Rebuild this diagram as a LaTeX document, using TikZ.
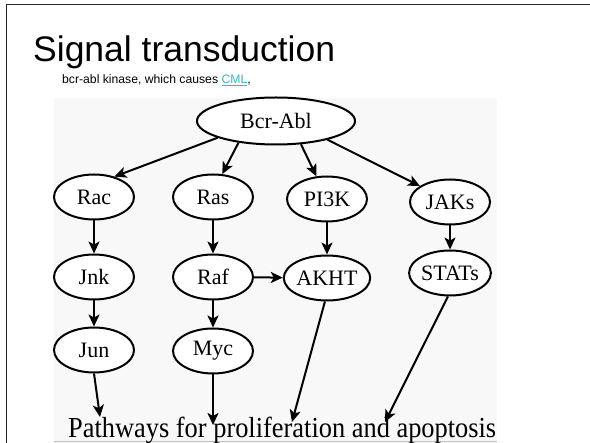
\documentclass[tikz,border=0pt]{standalone}
\usepackage{fontspec}
\setmainfont{Liberation Serif}
\newfontfamily\slidefont{Liberation Sans}
\usepackage{graphicx}
\usetikzlibrary{shapes.geometric,arrows.meta}

\definecolor{panelgray}{RGB}{248,248,248}
\definecolor{linkteal}{RGB}{51,187,187}

\tikzset{
  protein/.style={ellipse,draw,line width=2pt,fill=white,minimum width=80pt,
    minimum height=45pt,inner sep=0pt,font=\fontsize{22}{24}\selectfont},
  signal/.style={-{Stealth[length=12pt,width=11pt,inset=3pt]},line width=2pt},
}

\begin{document}
\begin{tikzpicture}[x=1pt,y=-1pt]
\useasboundingbox (0,0) rectangle (590,443);

% Slide frame and picture panel
\fill[panelgray] (54,98) rectangle (497,443);
\draw[gray!50,line width=0.8pt] (54,441.5) -- (497,441.5);
\draw[black!85,line width=1.2pt] (590,4.5) -- (6.5,4.5) -- (6.5,443);

% Title and caption
\node[anchor=base west,inner sep=0pt,font=\slidefont\fontsize{35.5}{42}\selectfont] (title) at (33,62) {Signal transduction};
\node[anchor=base west,inner sep=0pt,font=\slidefont\fontsize{12.2}{15}\selectfont] (caption) at (62,84)
  {bcr-abl kinase, which causes \textcolor{linkteal}{\underline{CML}},};

% Define protein nodes
\node[protein,minimum width=158pt,minimum height=47pt] (bcrabl) at (276,121) {Bcr-Abl};
\node[protein] (rac) at (94,197) {Rac};
\node[protein] (ras) at (213,197) {Ras};
\node[protein] (pi3k) at (327,199) {PI3K};
\node[protein] (jaks) at (450,202) {JAKs};
\node[protein] (jnk) at (94,277) {Jnk};
\node[protein] (raf) at (213,277) {Raf};
\node[protein] (akht) at (327,278) {AKHT};
\node[protein] (stats) at (450,273) {STATs};
\node[protein] (jun) at (94,350) {Jun};
\node[protein] (myc) at (213,351) {Myc};

% Outcome text and arrow ends
\node[anchor=base west,inner sep=0pt,font=\fontsize{29}{32}\selectfont] (pathways) at (68,438)
  {\scalebox{0.91}[1]{Pathways for proliferation and apoptosis}};
\coordinate (endjun) at (100,417);
\coordinate (endmyc) at (213,425);
\coordinate (endakht) at (292,422);
\coordinate (endstats) at (385,422);

% Construct branches out of Bcr-Abl
\draw[signal] (bcrabl.196) -- (rac.45);
\draw[signal] (bcrabl.210) -- (ras.68);
\draw[signal] (bcrabl.317) -- (pi3k.115);
\draw[signal] (bcrabl.340) -- (jaks.152);

% Construct the cascades
\draw[signal] (rac) -- (jnk);
\draw[signal] (jnk) -- (jun);
\draw[signal] (ras) -- (raf);
\draw[signal] (raf) -- (myc);
\draw[signal] (raf) -- (akht);
\draw[signal] (pi3k) -- (akht);
\draw[signal] (jaks) -- (stats);

% Construct arrows into the pathways
\draw[signal] (jun.south) -- (endjun);
\draw[signal] (myc.south) -- (endmyc);
\draw[signal] (akht.265) -- (endakht);
\draw[signal] (stats.265) -- (endstats);
\end{tikzpicture}
\end{document}
